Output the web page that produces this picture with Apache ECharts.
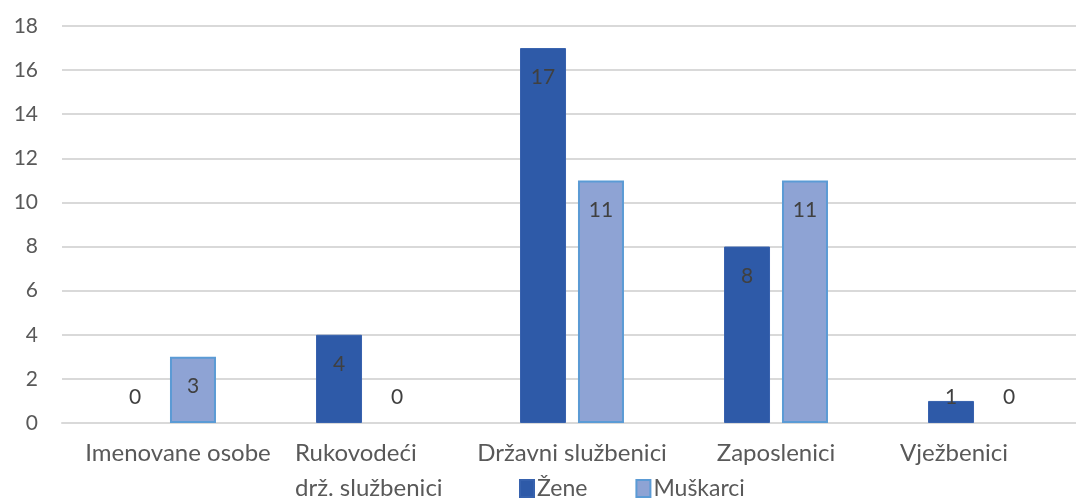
<!DOCTYPE html>
<html>
<head>
<meta charset="utf-8">
<script src="https://cdn.jsdelivr.net/npm/echarts@6/dist/echarts.min.js"></script>
<style>
  html, body { margin: 0; padding: 0; background: #fff; }
  #chart { width: 1076px; height: 498px; }
</style>
</head>
<body>
<div id="chart"></div>
<script>
// kategorije i vrijednosti
var categories = ['Imenovane osobe', 'Rukovodeći\ndrž. službenici', 'Državni službenici', 'Zaposlenici', 'Vježbenici'];
var zene = [0, 4, 17, 8, 1];
var muskarci = [3, 0, 11, 11, 0];
var yTicks = [0, 2, 4, 6, 8, 10, 12, 14, 16, 18];

var FONT = 'Lato';
var pxPerUnit = 397 / 18; // visina crteža / max

// oznake: unutar vrha stupca, a kod niskih stupaca iznad osnovice
function buildData(values) {
    return values.map(function (v) {
        var h = v * pxPerUnit;
        var item = { value: v };
        if (h >= 50) {
            item.label = { position: 'insideTop', distance: 19 };
        } else {
            item.label = { position: ['50%', h - 26], align: 'center', verticalAlign: 'middle' };
        }
        if (v === 0) {
            item.itemStyle = { borderWidth: 0 };
        }
        return item;
    });
}

// stil natpisa kategorija (kao u Excelu, malo pomaknuti)
var catFont = { fontFamily: FONT, fontSize: 24, color: '#595959', lineHeight: 35 };
function catLabel(value, idx) {
    var lines = value.split('\n');
    if (idx === 0) return '{a|' + value + '}';
    if (idx === categories.length - 1) return '{e|' + value + '}';
    if (lines.length > 1) {
        return lines.map(function (l) { return '{b|' + l + '}'; }).join('\n');
    }
    return value;
}

var myChart = echarts.init(document.getElementById('chart'));
var option = {
    animation: false,
    textStyle: { fontFamily: FONT },
    grid: { left: 62, right: -6, top: 26, bottom: 75, containLabel: false, outerBoundsMode: 'none' },
    legend: {
        data: ['Žene', 'Muškarci'],
        left: 519,
        top: 477,
        padding: 0,
        itemWidth: 14,
        itemHeight: 17,
        itemGap: 48,
        icon: 'rect',
        textStyle: { fontFamily: FONT, fontSize: 23, color: '#595959', padding: [0, 0, 0, -2] }
    },
    xAxis: {
        type: 'category',
        data: categories,
        axisLine: { show: true, lineStyle: { color: '#d9d9d9', width: 2 } },
        axisTick: { show: false },
        axisLabel: {
            fontFamily: FONT, fontSize: 24, color: '#595959', margin: 13, lineHeight: 35,
            interval: 0, verticalAlign: 'top',
            formatter: catLabel,
            rich: {
                a: Object.assign({ padding: [0, 0, 0, 28] }, catFont),
                b: Object.assign({ width: 146, align: 'left' }, catFont),
                e: Object.assign({ padding: [0, 52, 0, 0] }, catFont)
            }
        }
    },
    yAxis: {
        type: 'value',
        min: yTicks[0],
        max: yTicks[yTicks.length - 1],
        interval: 2,
        axisLine: { show: false },
        axisTick: { show: false },
        splitLine: { lineStyle: { color: '#d9d9d9', width: 2 } },
        axisLabel: { fontFamily: FONT, fontSize: 21, color: '#595959', margin: 24 }
    },
    series: [
        {
            name: 'Žene',
            type: 'bar',
            data: buildData(zene),
            barWidth: 46,
            barGap: '26%',
            itemStyle: { color: '#2e5aa8', borderColor: '#3762ae', borderWidth: 1 },
            label: { show: true, fontFamily: FONT, fontSize: 21, color: '#404040' }
        },
        {
            name: 'Muškarci',
            type: 'bar',
            data: buildData(muskarci),
            barWidth: 46,
            itemStyle: { color: '#8ea3d4', borderColor: '#5b9bd5', borderWidth: 2 },
            label: { show: true, fontFamily: FONT, fontSize: 21, color: '#404040' }
        }
    ]
};
myChart.setOption(option);
window.onresize = myChart.resize;
</script>
</body>
</html>
